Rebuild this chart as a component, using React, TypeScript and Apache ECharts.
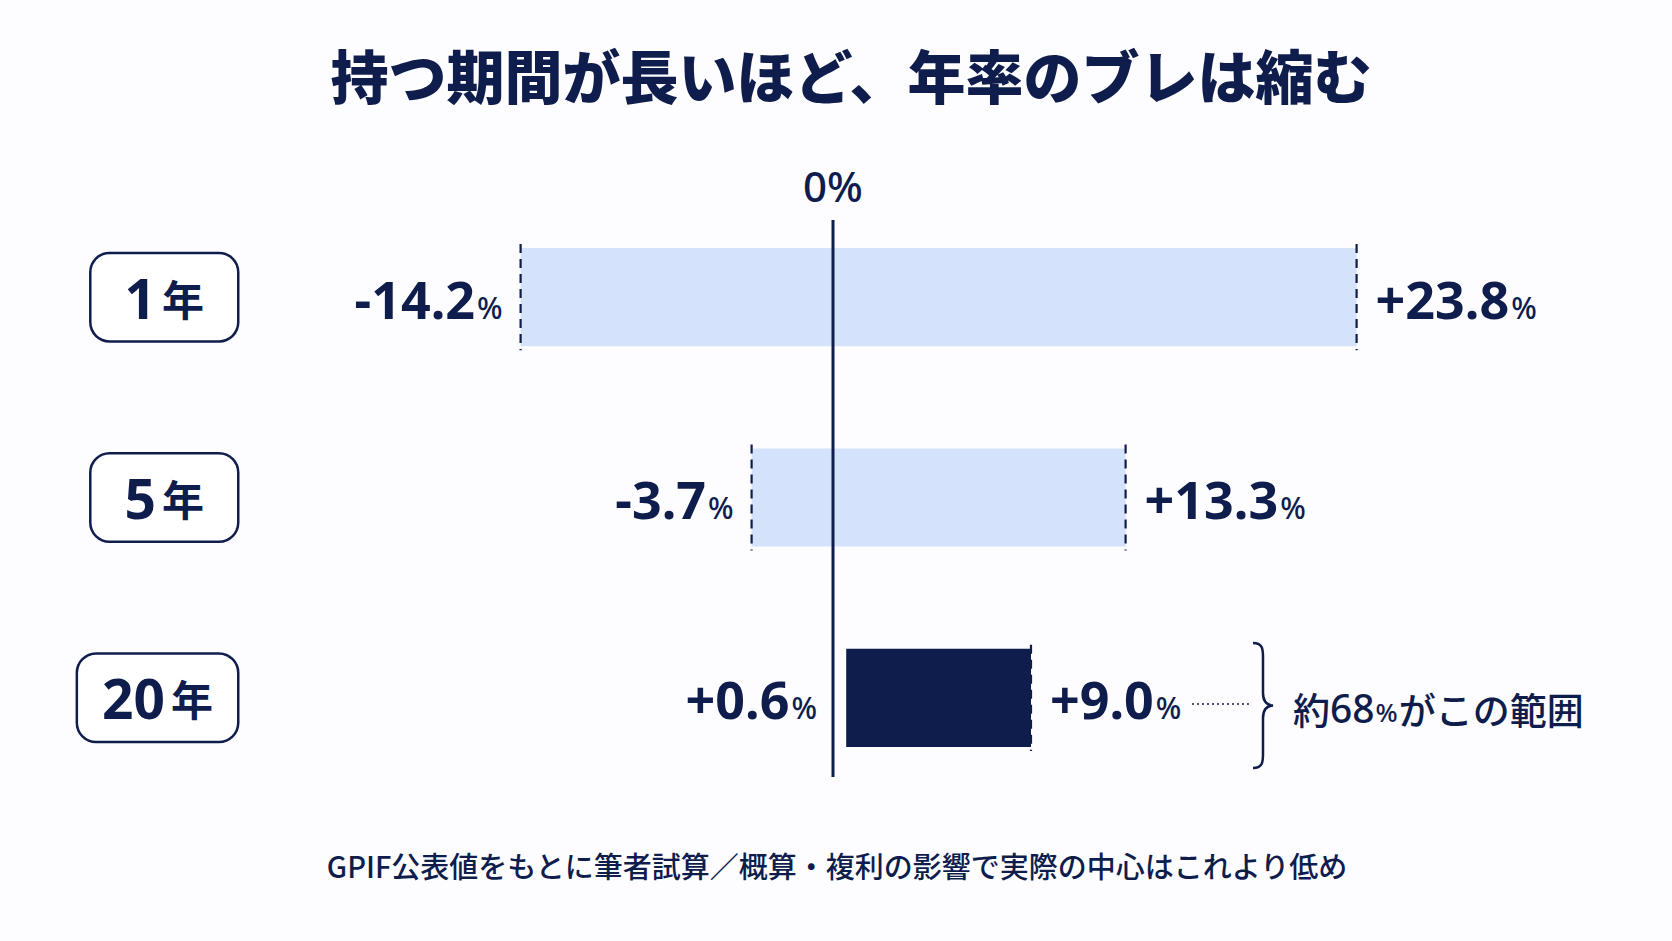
import React, { useEffect, useRef } from 'react';
import * as echarts from 'echarts';

// Holding periods and their typical annual-return range (low / high end, %)
const periods = ['1年', '5年', '20年'];
const lowRates = [-14.2, -3.7, 0.6];
const highRates = [23.8, 13.3, 9.0];
const focusPeriod = '20年';
const rangeShare = 68;

const titleText = '持つ期間が長いほど、年率のブレは縮む';
const noteText = 'GPIF公表値をもとに筆者試算／概算・複利の影響で実際の中心はこれより低め';

const NAVY = '#0f1d4d';
const LIGHT = '#d4e3fb';
const LATIN = '"Noto Sans", "Noto Sans CJK JP", sans-serif';
const CJK = '"Noto Sans CJK JP", "Noto Sans", sans-serif';

const fmt = (v: number) => (v >= 0 ? '+' : '-') + Math.abs(v).toFixed(1);

// Curly brace drawn next to the highlighted range
echarts.graphic.registerShape(
  'brace',
  echarts.graphic.extendPath(
    'M0,0 C9,0 10,5 10,14 L10,50 C10,58 13,62 20,62.5 C13,63 10,67 10,75 L10,111 C10,120 9,125 0,125',
    {}
  )
);

const valueRich = {
  n: { fontSize: 52, fontWeight: 'bold', fontFamily: LATIN, fill: NAVY, lineHeight: 62, verticalAlign: 'bottom' },
  p: { fontSize: 30, fontWeight: 500, fontFamily: LATIN, fill: NAVY, lineHeight: 62, verticalAlign: 'bottom', padding: [0, 0, 2, 2] },
};

function valueText(x: number, y: number, v: number, align: string) {
  return {
    type: 'text',
    x,
    y,
    z2: 10,
    style: {
      text: `{n|${fmt(v)}}{p|%}`,
      rich: valueRich,
      fill: NAVY,
      align,
      textAlign: align,
      verticalAlign: 'middle',
      textVerticalAlign: 'middle',
    },
  };
}

export default function App() {
  const ref = useRef<HTMLDivElement>(null);

  useEffect(() => {
    if (!ref.current) return;
    const chart = echarts.init(ref.current, null, { renderer: 'svg' });

    const rangeData = periods.map((_, i) => [i, lowRates[i], highRates[i]]);

    const option = {
      animation: false,
      backgroundColor: '#fdfdff',
      title: [
        {
          text: titleText,
          left: 846,
          top: 40,
          textAlign: 'center',
          textStyle: { fontSize: 58, fontWeight: 900, fontFamily: CJK, color: NAVY },
        },
        {
          text: noteText,
          left: 832,
          top: 845,
          textAlign: 'center',
          textStyle: { fontSize: 29, fontWeight: 500, fontFamily: CJK, color: NAVY },
        },
      ],
      grid: { left: 393, width: 1100, top: 197, height: 601 },
      xAxis: {
        type: 'value',
        min: -20,
        max: 30,
        show: false,
      },
      yAxis: {
        type: 'category',
        inverse: true,
        data: periods.map((p) => ({
          value: p,
          textStyle: { padding: p.length > 2 ? [12, 24, 12, 24] : [12, 33, 12, 33] },
        })),
        axisLine: { show: false },
        axisTick: { show: false },
        splitLine: { show: false },
        axisLabel: {
          margin: 156,
          verticalAlign: 'middle',
          backgroundColor: '#ffffff',
          borderColor: NAVY,
          borderWidth: 2.5,
          borderRadius: 18,
          formatter: (v: string) => `{n|${v.replace('年', '')}}{u|年}`,
          rich: {
            n: { fontSize: 55, fontWeight: 'bold', fontFamily: LATIN, color: NAVY, lineHeight: 62 },
            u: { fontSize: 42, fontWeight: 'bold', fontFamily: CJK, color: NAVY, lineHeight: 62, padding: [0, 0, 0, 6] },
          },
        },
      },
      series: [
        {
          type: 'custom',
          name: 'range',
          data: rangeData,
          encode: { x: [1, 2], y: 0 },
          z: 2,
          renderItem: (params: any, api: any) => {
            const idx = api.value(0);
            const lo = api.value(1);
            const hi = api.value(2);
            const [x0, yc] = api.coord([lo, idx]);
            const [x1] = api.coord([hi, idx]);
            const [xz] = api.coord([0, idx]);
            const h = api.size([0, 1])[1] * 0.49;
            const focus = periods[idx] === focusPeriod;
            const dash = (x: number) => ({
              type: 'line',
              z2: 5,
              shape: { x1: x, y1: yc - h / 2 - 4, x2: x, y2: yc + h / 2 + 4 },
              style: { stroke: NAVY, lineWidth: 2.2, lineDash: [9, 6] },
            });
            const children: any[] = [
              {
                type: 'rect',
                shape: { x: x0, y: yc - h / 2, width: x1 - x0, height: h },
                style: { fill: focus ? NAVY : LIGHT },
              },
            ];
            if (!focus) children.push(dash(x0));
            children.push(dash(x1));
            const leftX = lo >= 0 ? Math.min(x0, xz) - 16 : x0 - 18;
            children.push(valueText(leftX, yc - 4, lo, 'right'));
            children.push(valueText(x1 + 19, yc - 4, hi, 'left'));
            return { type: 'group', children };
          },
        },
        {
          type: 'custom',
          name: 'zero',
          data: [[0]],
          encode: { x: 0 },
          z: 5,
          renderItem: (params: any, api: any) => {
            const [xz, yFirst] = api.coord([0, 0]);
            const [, yLast] = api.coord([0, periods.length - 1]);
            const h = api.size([0, 1])[1] * 0.49;
            const top = yFirst - h / 2 - 28;
            const bottom = yLast + h / 2 + 30;
            return {
              type: 'group',
              children: [
                {
                  type: 'line',
                  shape: { x1: xz, y1: top, x2: xz, y2: bottom },
                  style: { stroke: NAVY, lineWidth: 3 },
                },
                {
                  type: 'text',
                  x: xz,
                  y: top - 35,
                  style: {
                    text: '0%',
                    fill: NAVY,
                    font: `500 42px ${LATIN}`,
                    align: 'center',
                    textAlign: 'center',
                    verticalAlign: 'middle',
                    textVerticalAlign: 'middle',
                  },
                },
              ],
            };
          },
        },
      ],
      graphic: [
        {
          type: 'line',
          shape: { x1: 1192, y1: 704, x2: 1249, y2: 704 },
          style: { stroke: NAVY, lineWidth: 1.5, lineDash: [2, 3] },
        },
        {
          type: 'brace',
          x: 1253,
          y: 643,
          style: { stroke: NAVY, lineWidth: 2.5, fill: null },
        },
        {
          type: 'text',
          x: 1293,
          y: 704,
          style: {
            text: `{a|約}{b|${rangeShare}}{c|%}{a|がこの範囲}`,
            fill: NAVY,
            verticalAlign: 'middle',
            textVerticalAlign: 'middle',
            rich: {
              a: { fontSize: 37, fontWeight: 500, fontFamily: CJK, fill: NAVY, lineHeight: 46, verticalAlign: 'bottom' },
              b: { fontSize: 39, fontWeight: 500, fontFamily: LATIN, fill: NAVY, lineHeight: 46, verticalAlign: 'bottom' },
              c: { fontSize: 26, fontWeight: 500, fontFamily: LATIN, fill: NAVY, lineHeight: 46, verticalAlign: 'bottom', padding: [0, 1, 2, 1] },
            },
          },
        },
      ],
    };

    chart.setOption(option as any);
    return () => chart.dispose();
  }, []);

  return (
    <div
      ref={ref}
      style={{ position: 'absolute', left: 0, top: 0, width: 1672, height: 941 }}
    />
  );
}
